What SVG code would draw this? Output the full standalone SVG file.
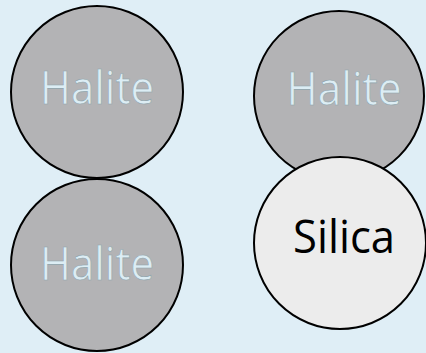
<svg xmlns="http://www.w3.org/2000/svg" width="426" height="353" viewBox="0 0 426 353">
  <style>
    .grain { stroke: #000; stroke-width: 2; }
    .halite { fill: #b3b3b5; }
    .silica { fill: #ececec; }
    .lbl { font-family: "Open Sans", "Noto Sans", "Liberation Sans", sans-serif; font-size: 45px; text-anchor: middle; }
    .lbl-halite { fill: #dcedf4; stroke: #8fa3ab; stroke-width: 0.6; }
    .lbl-silica { fill: #000; }
  </style>
  <rect width="426" height="353" fill="#dfeef6"/>
  <g id="connectors"/>
  <g id="halite-top-left">
    <circle class="grain halite" cx="97" cy="92" r="86"/>
    <text class="lbl lbl-halite" x="97" y="104" textLength="114" lengthAdjust="spacingAndGlyphs">Halite</text>
  </g>
  <g id="halite-bottom-left">
    <circle class="grain halite" cx="97" cy="265" r="86"/>
    <text class="lbl lbl-halite" x="97" y="280" textLength="114" lengthAdjust="spacingAndGlyphs">Halite</text>
  </g>
  <g id="halite-top-right">
    <circle class="grain halite" cx="339" cy="96" r="85"/>
    <text class="lbl lbl-halite" x="344" y="105" textLength="115" lengthAdjust="spacingAndGlyphs">Halite</text>
  </g>
  <g id="silica">
    <circle class="grain silica" cx="340" cy="243" r="86"/>
    <text class="lbl lbl-silica" x="344" y="253" textLength="102" lengthAdjust="spacingAndGlyphs">Silica</text>
  </g>
</svg>
